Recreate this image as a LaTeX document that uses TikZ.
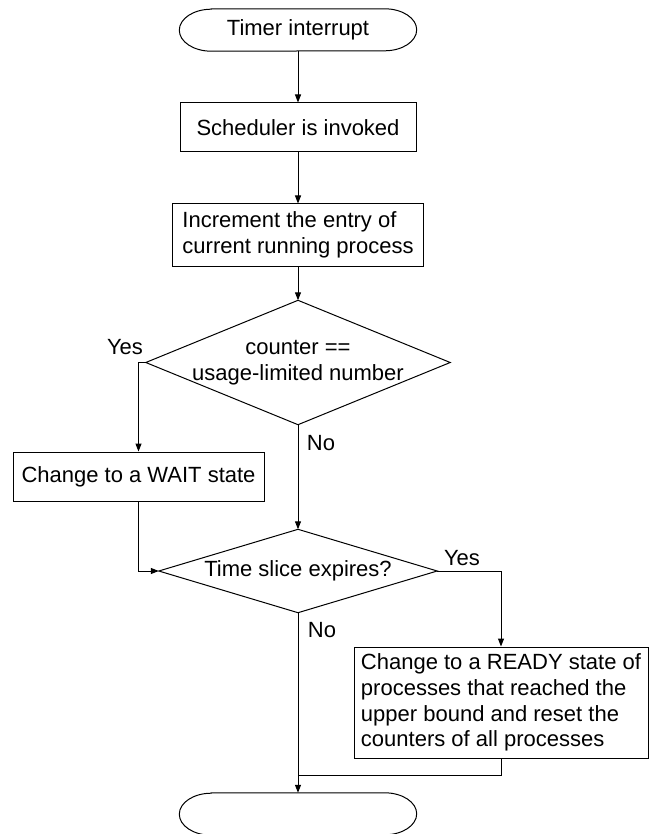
\documentclass[tikz,border=0pt]{standalone}
\usepackage{fontspec}
\setmainfont{Liberation Sans}
\usetikzlibrary{arrows.meta}
\begin{document}
\begin{tikzpicture}[x=1pt, y=-1pt,
  every node/.style={font=\fontsize{22}{25.7}\selectfont, inner sep=0pt},
  line/.style={line width=1pt, black},
  arr/.style={line, -{Triangle[length=8pt, width=6pt]}},
  proc/.style={draw, line width=1pt, align=center},
  termtext/.style={minimum width=237pt, minimum height=42pt},
  dtext/.style={align=center},
  lbl/.style={}
]
\useasboundingbox (0,0) rectangle (649,834);

% nodes
\node[termtext] (t1) at (298,30) {Timer interrupt};
\node[proc, minimum width=236pt, minimum height=49pt] (b1) at (298,127.5) {Scheduler is invoked};
\node[proc, align=left, minimum width=251pt, minimum height=62pt] (b2) at (298,235)
  {Increment the entry of\\current running process};
\node[dtext, minimum width=304pt, minimum height=124pt] (d1) at (298,362.5)
  {counter ==\\usage-limited number};
\node[proc, minimum width=251pt, minimum height=49pt] (wait) at (138.5,476.5) {Change to a WAIT state};
\node[dtext, minimum width=278pt, minimum height=83pt] (d2) at (298,571) {Time slice expires?};
\node[proc, align=left, minimum width=294pt, minimum height=111pt] (ready) at (501,702.5)
  {Change to a READY state of\\processes that reached the\\upper bound and reset the\\counters of all processes};
\node[termtext] (t2) at (298,814) {};
\coordinate (mrg) at (298,775);

% terminal outlines with elliptical ends
\foreach \t in {t1,t2}
  \draw[line] ([xshift=32pt]\t.north west) -- ([xshift=-32pt]\t.north east)
    arc[start angle=90, end angle=-90, x radius=32pt, y radius=21pt]
    -- ([xshift=32pt]\t.south west)
    arc[start angle=270, end angle=90, x radius=32pt, y radius=21pt] -- cycle;

% decision outlines
\foreach \d in {d1,d2}
  \draw[line] (\d.north) -- (\d.east) -- (\d.south) -- (\d.west) -- cycle;

% branch labels
\node[lbl] (yes1) at (125,347) {Yes};
\node[lbl] (no1) at (321,443) {No};
\node[lbl] (yes2) at (462,558) {Yes};
\node[lbl] (no2) at (322,630) {No};

% connectors
\draw[arr] (t1.south) -- (b1.north);
\draw[arr] (b1.south) -- (b2.north);
\draw[arr] (b2.south) -- (d1.north);
\draw[arr] (d1.west) -| (wait.north);
\draw[arr] (d1.south) -- (d2.north);
\draw[arr] (wait.south) |- (d2.west);
\draw[arr] (d2.east) -| (ready.north);
\draw[arr] (d2.south) -- (t2.north);
\draw[line] (ready.south) |- (mrg);
\end{tikzpicture}
\end{document}
